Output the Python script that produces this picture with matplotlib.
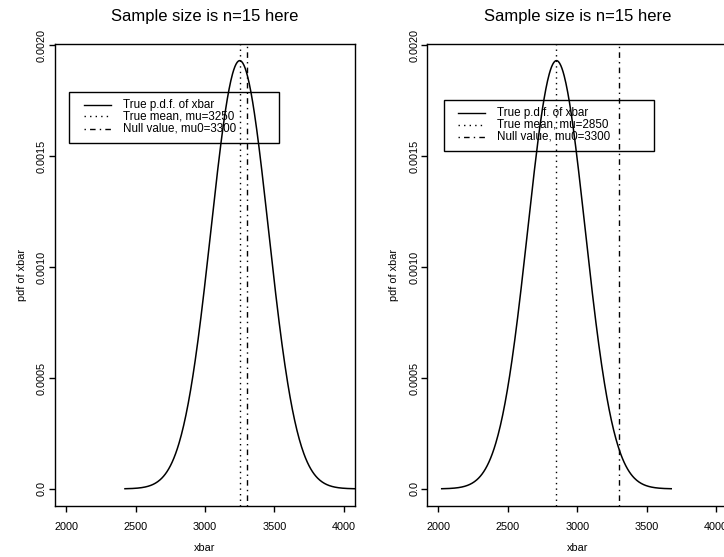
import numpy as np
import matplotlib.pyplot as plt

plt.rcParams['font.family'] = ['Liberation Sans', 'DejaVu Sans']

# Values
n = 15
sigma = 800
true_means = [3250, 2850]
null_value = 3300
x_ticks = [2000, 2500, 3000, 3500, 4000]
y_ticks = [0.0, 0.0005, 0.0010, 0.0015, 0.0020]
y_tick_labels = ["0.0", "0.0005", "0.0010", "0.0015", "0.0020"]
title = "Sample size is n=15 here"

se = sigma / np.sqrt(n)

fig = plt.figure(figsize=(7.24, 5.57), dpi=100)
W, H = 724, 557

# axes boxes in pixels (left, top, right, bottom), second panel runs off the right edge
boxes = [(55, 43.5, 355, 506), (427.3, 43.5, 727.3, 506)]
# legend position in axes fraction: left, top
legend_pos = [(0.0477, 0.8958), (0.0547, 0.8778)]


def draw_legend(ax, x0, y0, labels, styles):
    w, h = 0.70, 0.110
    ax.add_patch(plt.Rectangle((x0, y0 - h), w, h, transform=ax.transAxes,
                               fill=False, edgecolor="black", linewidth=1.0,
                               clip_on=False, zorder=5))
    rows = [0.0277, 0.0536, 0.0796]
    for lab, ls, dy in zip(labels, styles, rows):
        ax.plot([x0 + 0.049, x0 + 0.139], [y0 - dy, y0 - dy], transform=ax.transAxes,
                color="black", linestyle=ls, linewidth=1.0, clip_on=False)
        ax.text(x0 + 0.178, y0 - dy, lab, transform=ax.transAxes, fontsize=8.4,
                va="center", ha="left")


for i, mu in enumerate(true_means):
    l, t, r, b = boxes[i]
    ax = fig.add_axes([l / W, 1 - b / H, (r - l) / W, (b - t) / H])

    xs = np.linspace(mu - 4 * se, mu + 4 * se, 400)
    pdf = np.exp(-0.5 * ((xs - mu) / se) ** 2) / (se * np.sqrt(2 * np.pi))
    ax.plot(xs, pdf, color="black", linewidth=1.1)

    ax.axvline(mu, color="black", linewidth=1.0, linestyle=(0, (1, 3)))
    ax.axvline(null_value, color="black", linewidth=1.0, linestyle=(0, (1, 3, 4, 3)))

    peak = 1 / (se * np.sqrt(2 * np.pi))
    ax.set_xlim(1920, 4080)
    ax.set_ylim(-0.04 * peak, 1.04 * peak)

    ax.set_xticks(x_ticks)
    ax.set_xticklabels([str(v) for v in x_ticks], fontsize=7.8)
    ax.set_yticks(y_ticks)
    ax.set_yticklabels(y_tick_labels, fontsize=7.8, rotation=90, va="center")
    ax.tick_params(axis="both", direction="out", length=4.3, width=1.0)
    ax.tick_params(axis="x", pad=7.5)
    ax.tick_params(axis="y", pad=1.5)
    for s in ax.spines.values():
        s.set_linewidth(1.0)

    ax.set_xlabel("xbar", fontsize=7.8, labelpad=7.5)
    ax.set_ylabel("pdf of xbar", fontsize=7.8, labelpad=7.2)
    ax.set_title(title, fontsize=12, pad=16.5)

    draw_legend(ax, legend_pos[i][0], legend_pos[i][1],
                ["True p.d.f. of xbar", "True mean, mu=%d" % mu, "Null value, mu0=%d" % null_value],
                ["-", (0, (1, 3)), (0, (1, 3, 4, 3))])

fig.savefig("out.png", dpi=100)
